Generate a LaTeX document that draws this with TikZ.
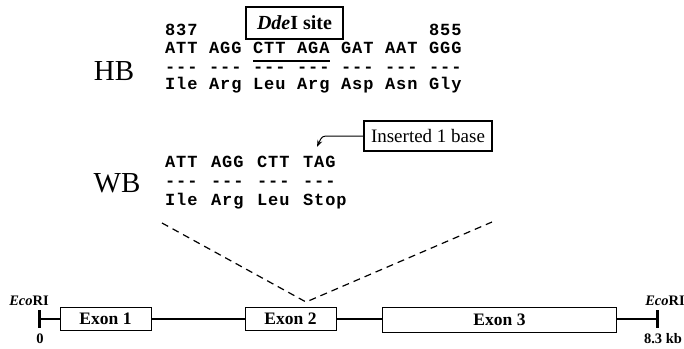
\documentclass[tikz,border=0pt]{standalone}
\usepackage{fontspec}
\setmainfont{Liberation Serif}
\newfontfamily\seqfont[LetterSpace=5]{Liberation Mono}
\usetikzlibrary{arrows.meta}
\newcommand\dsh{{-}{-}{-}}
\tikzset{
  seq/.style={font=\seqfont\bfseries\fontsize{17}{19}\selectfont, inner sep=0pt, anchor=base west},
  biglabel/.style={font=\fontsize{29}{31}\selectfont, inner sep=0pt},
  exonbox/.style={draw, fill=white, line width=0.8pt, inner sep=0pt, font=\bfseries\fontsize{17.5}{19}\selectfont},
  labelbox/.style={draw, line width=1.1pt, inner sep=0pt},
  small/.style={font=\bfseries\fontsize{14.5}{16}\selectfont, inner sep=0pt},
}
\begin{document}
\begin{tikzpicture}[x=1pt,y=-1pt]
\useasboundingbox (0,0) rectangle (684,348);
% HB block
\node[seq] (n837) at (165,35) {837};
\node[seq] (n855) at (429,35) {855};
\node[labelbox, minimum width=97pt, minimum height=32pt, font=\fontsize{20}{22}\selectfont] (dde) at (294.5,23) {\textbf{\textit{Dde}I site}};
\foreach \t [count=\i from 0] in {ATT,AGG,CTT,AGA,GAT,AAT,GGG}
  \node[seq] (hbc\i) at (165+44*\i,53) {\t};
\foreach \i in {0,...,6}
  \node[seq] (hbd\i) at (165+44*\i,72) {\dsh};
\foreach \t [count=\i from 0] in {Ile,Arg,Leu,Arg,Asp,Asn,Gly}
  \node[seq] (hba\i) at (165+44*\i,89) {\t};
\draw[line width=1.5pt] (hbc2.west |- 0,61) -- (hbc3.east |- 0,61);
\node[biglabel] (hb) at (114,71) {HB};
% WB block
\node[labelbox, minimum width=128pt, minimum height=30pt, font=\fontsize{19}{21}\selectfont] (ins) at (428,136) {Inserted 1 base};
\coordinate (arrtip) at (317,147);
\draw[line width=1pt, -{Stealth[length=7pt,width=5pt]}] (ins.west) -- (330,136) .. controls (322,136) .. (arrtip);
\foreach \t [count=\i from 0] in {ATT,AGG,CTT,TAG}
  \node[seq] (wbc\i) at (165+46*\i,167) {\t};
\foreach \i in {0,...,3}
  \node[seq] (wbd\i) at (165+46*\i,186) {\dsh};
\foreach \t [count=\i from 0] in {Ile,Arg,Leu,Stop}
  \node[seq] (wba\i) at (165+46*\i,205) {\t};
\node[biglabel] (wb) at (117,183) {WB};
% gene map
\coordinate (L) at (39,319);
\coordinate (R) at (657,319);
\draw[line width=2.2pt] (L) -- (R);
\draw[line width=3pt] (39,310) -- (39,328);
\draw[line width=3pt] (657,310) -- (657,328);
\node[exonbox, minimum width=91pt, minimum height=23pt] (ex1) at (105.5,318.5) {Exon 1};
\node[exonbox, minimum width=91pt, minimum height=23pt] (ex2) at (290.5,318.5) {Exon 2};
\node[exonbox, minimum width=234pt, minimum height=25pt] (ex3) at (499.5,319.5) {Exon 3};
\node[small] (eco1) at (29,301) {\textit{Eco}RI};
\node[small] (eco2) at (665,301) {\textit{Eco}RI};
\node[small] (zero) at (40,339) {0};
\node[small] (kb) at (663,339) {8.3 kb};
% zoom lines
\coordinate (dl) at (162,223);
\coordinate (dr) at (492,222);
\coordinate (apex) at (306,302);
\draw[dashed, dash pattern=on 7pt off 5pt, line width=1.2pt] (dl) -- (apex) -- (dr);
\end{tikzpicture}
\end{document}
